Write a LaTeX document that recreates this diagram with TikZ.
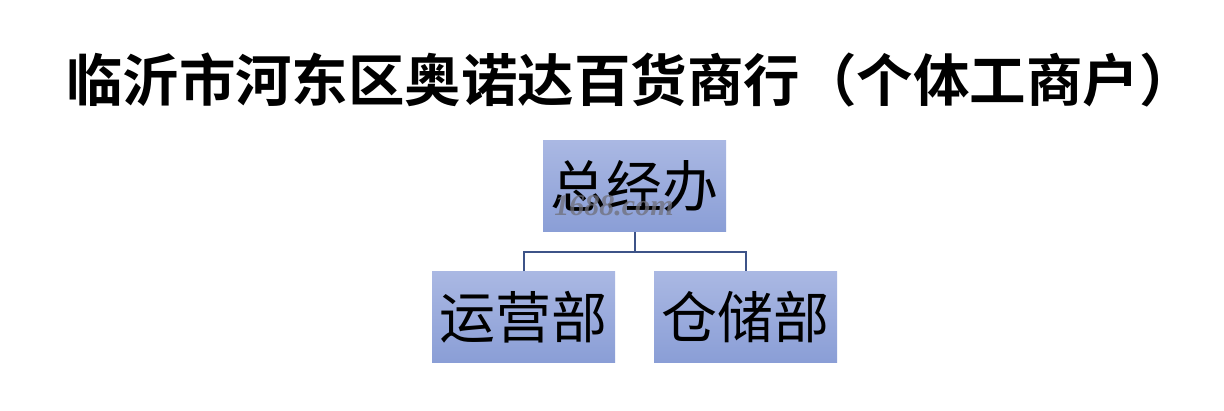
\documentclass[tikz,border=0pt]{standalone}
\usepackage{fontspec}
\newfontfamily\cjk{Noto Sans CJK SC}
\newfontfamily\cjkbold{Noto Sans CJK SC}[BoldFont={* Bold}]
\setmainfont{Liberation Serif}
\definecolor{boxtop}{HTML}{AAB8E3}
\definecolor{boxbot}{HTML}{8A9ED6}
\definecolor{linec}{HTML}{3D5388}
\definecolor{wmc}{HTML}{6F6F7A}
\tikzset{
  orgbox/.style={rectangle, minimum width=183pt, minimum height=91pt, inner sep=0pt,
    top color=boxtop, bottom color=boxbot, draw=none,
    font=\cjk\fontsize{56pt}{62pt}\selectfont},
  conn/.style={draw=linec, line width=2pt},
}
\begin{document}
\begin{tikzpicture}[x=1pt,y=-1pt]
\useasboundingbox (0,0) rectangle (1224,411);
\fill[white] (0,0) rectangle (1224,411);
\node[font={\cjkbold\bfseries\fontsize{56.5pt}{60pt}\selectfont}] (title) at (631,80) {临沂市河东区奥诺达百货商行（个体工商户）};
\node[orgbox] (top) at (634.5,186.5) {总经办};
\node[orgbox] (left) at (523.5,317) {运营部};
\node[orgbox] (right) at (745.5,317) {仓储部};
\node[text=wmc, opacity=0.75, font={\bfseries\itshape\fontsize{30pt}{32pt}\selectfont}] (wm) at (614,206) {1688.com};
\coordinate (mid) at (634.5,252);
\draw[conn] (top.south) -- (mid);
\draw[conn] (left.north) |- (mid) -| (right.north);
\end{tikzpicture}
\end{document}
